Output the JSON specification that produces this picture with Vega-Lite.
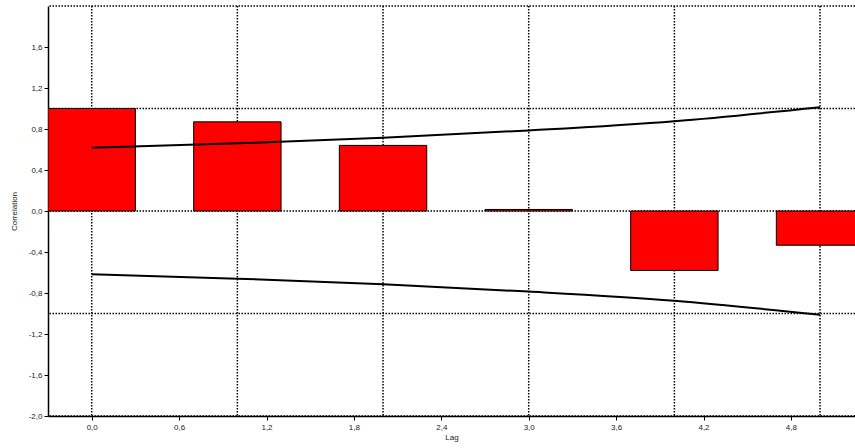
{
  "$schema": "https://vega.github.io/schema/vega-lite/v6.json",
  "width": 807,
  "height": 410,
  "autosize": {"type": "none"},
  "padding": {"left": 48, "top": 6, "right": 0, "bottom": 32},
  "background": "white",
  "config": {
    "view": {"stroke": null},
    "font": "Liberation Sans",
    "axis": {
      "labelFont": "Liberation Sans",
      "titleFont": "Liberation Sans",
      "labelFontSize": 8,
      "titleFontSize": 8,
      "titleFontWeight": "normal",
      "labelColor": "#222",
      "titleColor": "#222",
      "domainColor": "black",
      "tickColor": "black",
      "domainWidth": 1.5,
      "tickSize": 4,
      "grid": false
    }
  },
  "datasets": {
    "acf": [
      {"lag": 0, "corr": 1.0, "upper": 0.617, "lower": -0.617},
      {"lag": 1, "corr": 0.87, "upper": 0.66, "lower": -0.66},
      {"lag": 2, "corr": 0.64, "upper": 0.715, "lower": -0.715},
      {"lag": 3, "corr": 0.015, "upper": 0.786, "lower": -0.786},
      {"lag": 4, "corr": -0.58, "upper": 0.876, "lower": -0.876},
      {"lag": 5, "corr": -0.334, "upper": 1.013, "lower": -1.013}
    ],
    "vgrid": [{"v": 0}, {"v": 1}, {"v": 2}, {"v": 3}, {"v": 4}, {"v": 5}],
    "hgrid": [{"h": -2}, {"h": -1}, {"h": 0}, {"h": 1}, {"h": 2}]
  },
  "layer": [
    {
      "data": {"name": "vgrid"},
      "mark": {"type": "rule", "color": "black", "strokeWidth": 1.5, "strokeDash": [1.5, 1.5]},
      "encoding": {
        "x": {
          "field": "v", "type": "quantitative",
          "scale": {"domain": [-0.3, 5.24], "nice": false, "zero": false},
          "axis": {
            "title": "Lag",
            "values": [0, 0.6, 1.2, 1.8, 2.4, 3.0, 3.6, 4.2, 4.8],
            "labelExpr": "replace(replace(format(datum.value, '.1f'), '.', ','), '\u2212', '-')",
            "labelPadding": 3,
            "titlePadding": 2
          }
        }
      }
    },
    {
      "data": {"name": "hgrid"},
      "mark": {"type": "rule", "color": "black", "strokeWidth": 1.5, "strokeDash": [1.5, 1.5]},
      "encoding": {
        "y": {
          "field": "h", "type": "quantitative",
          "scale": {"domain": [-2, 2], "nice": false, "zero": false},
          "axis": {
            "title": "Correlation",
            "values": [-2.0, -1.6, -1.2, -0.8, -0.4, 0, 0.4, 0.8, 1.2, 1.6],
            "labelExpr": "replace(replace(format(datum.value, '.1f'), '.', ','), '\u2212', '-')",
            "labelPadding": 2,
            "titlePadding": 10
          }
        }
      }
    },
    {
      "data": {"name": "acf"},
      "transform": [
        {"calculate": "datum.lag - 0.3", "as": "x0"},
        {"calculate": "datum.lag + 0.3", "as": "x1"},
        {"calculate": "0", "as": "base"}
      ],
      "mark": {"type": "rect", "fill": "#ff0000", "stroke": "black", "strokeWidth": 1, "clip": true},
      "encoding": {
        "x": {"field": "x0", "type": "quantitative"},
        "x2": {"field": "x1"},
        "y": {"field": "corr", "type": "quantitative"},
        "y2": {"field": "base"}
      }
    },
    {
      "data": {"name": "acf"},
      "mark": {"type": "line", "color": "black", "strokeWidth": 2, "interpolate": "monotone"},
      "encoding": {
        "x": {"field": "lag", "type": "quantitative"},
        "y": {"field": "upper", "type": "quantitative"}
      }
    },
    {
      "data": {"name": "acf"},
      "mark": {"type": "line", "color": "black", "strokeWidth": 2, "interpolate": "monotone"},
      "encoding": {
        "x": {"field": "lag", "type": "quantitative"},
        "y": {"field": "lower", "type": "quantitative"}
      }
    }
  ]
}
